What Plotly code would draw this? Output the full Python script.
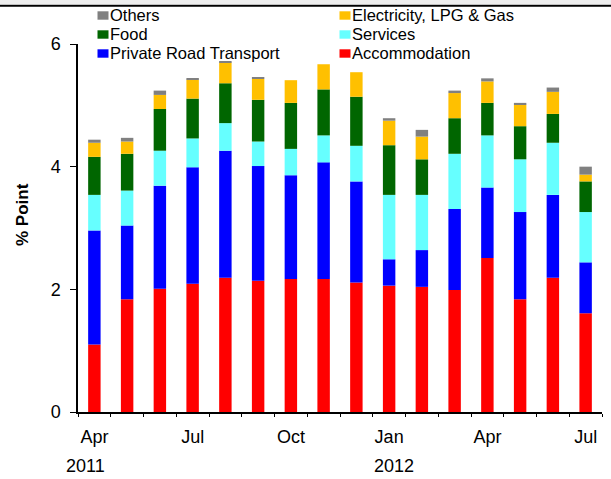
import plotly.graph_objects as go

# ---------------- data ----------------
months = ["Apr-11", "May-11", "Jun-11", "Jul-11", "Aug-11", "Sep-11", "Oct-11", "Nov-11",
          "Dec-11", "Jan-12", "Feb-12", "Mar-12", "Apr-12", "May-12", "Jun-12", "Jul-12"]
month_tick_text = ["Apr", "", "", "Jul", "", "", "Oct", "", "", "Jan", "", "", "Apr", "", "", "Jul"]
year_labels = ["2011", "2012"]

accommodation = [1.10, 1.84, 2.01, 2.09, 2.19, 2.14, 2.17, 2.17, 2.11, 2.06, 2.04, 1.99, 2.51, 1.84, 2.19, 1.61]
private_road = [1.86, 1.20, 1.68, 1.90, 2.07, 1.87, 1.69, 1.90, 1.65, 0.43, 0.60, 1.32, 1.15, 1.42, 1.35, 0.83]
services = [0.58, 0.57, 0.57, 0.47, 0.45, 0.40, 0.43, 0.44, 0.58, 1.05, 0.90, 0.90, 0.85, 0.86, 0.85, 0.82]
food = [0.62, 0.60, 0.68, 0.65, 0.65, 0.68, 0.75, 0.75, 0.80, 0.81, 0.58, 0.58, 0.53, 0.54, 0.47, 0.50]
electricity = [0.23, 0.20, 0.23, 0.31, 0.34, 0.34, 0.37, 0.41, 0.40, 0.40, 0.37, 0.41, 0.35, 0.35, 0.36, 0.11]
others = [0.05, 0.06, 0.07, 0.02, 0.02, 0.02, 0.00, -0.03, 0.00, 0.04, 0.11, 0.04, 0.05, 0.03, 0.07, 0.13]

y_ticks = [0, 2, 4, 6]
y_title = "% Point"

series = [
    ("Accommodation", accommodation, "#FF0000"),
    ("Private Road Transport", private_road, "#0000FF"),
    ("Services", services, "#66FFFF"),
    ("Food", food, "#006600"),
    ("Electricity, LPG & Gas", electricity, "#FFC000"),
    ("Others", others, "#808080"),
]

# ---------------- layout helpers ----------------
W, H = 611, 479
ML, MR, MT, MB = 78, 9, 44, 67
PW, PH = W - ML - MR, H - MT - MB
FONT = "Liberation Sans, Arial, sans-serif"


def px2x(px):
    return (px - ML) / PW


def py2y(py):
    return (H - MB - py) / PH


fig = go.Figure()
for name, vals, col in series:
    fig.add_trace(go.Bar(x=months, y=vals, name=name, marker_color=col,
                         marker_line_width=0, width=0.38, showlegend=False))

shapes = []
annotations = []

# manual legend (two columns, three rows)
legend_layout = [
    ("Others", 0, 0), ("Electricity, LPG & Gas", 1, 0),
    ("Food", 0, 1), ("Services", 1, 1),
    ("Private Road Transport", 0, 2), ("Accommodation", 1, 2),
]
col_sq_x = [97.5, 339.5]
row_cy = [15.5, 34.5, 53.5]
color_of = {n: c for n, _, c in series}
for name, ci, ri in legend_layout:
    sx = col_sq_x[ci]
    cy = row_cy[ri]
    shapes.append(dict(type="rect", xref="paper", yref="paper",
                       x0=px2x(sx), x1=px2x(sx + 11), y0=py2y(cy + 4.2), y1=py2y(cy - 4.2),
                       fillcolor=color_of[name], line=dict(width=0)))
    annotations.append(dict(text=name, xref="paper", yref="paper", x=px2x(sx + 11), y=py2y(cy),
                            xanchor="left", yanchor="middle", showarrow=False, borderpad=0,
                            font=dict(family=FONT, size=16.5, color="#000")))

# top band
shapes.append(dict(type="rect", xref="paper", yref="paper", x0=px2x(0), x1=px2x(W),
                   y0=py2y(4), y1=py2y(0), fillcolor="#EEEEEE", line=dict(width=0), layer="below"))
shapes.append(dict(type="line", xref="paper", yref="paper", x0=px2x(0), x1=px2x(W),
                   y0=py2y(5.7), y1=py2y(5.7), line=dict(color="#000", width=2)))

# y title
annotations.append(dict(text="<b>" + y_title + "</b>", xref="paper", yref="paper",
                        x=px2x(22), y=py2y(215), textangle=-90, showarrow=False,
                        xanchor="center", yanchor="middle",
                        font=dict(family=FONT, size=17, color="#000")))

# year labels
for lab, xpos in zip(year_labels, [-0.26, 9.15]):
    annotations.append(dict(text=lab, xref="x", yref="paper", x=xpos, y=py2y(466),
                            showarrow=False, xanchor="center", yanchor="middle",
                            font=dict(family=FONT, size=18, color="#000")))

fig.update_layout(
    width=W, height=H,
    margin=dict(l=ML, r=MR, t=MT, b=MB, autoexpand=False),
    paper_bgcolor="white", plot_bgcolor="white",
    barmode="relative", bargap=0.62,
    shapes=shapes, annotations=annotations,
    font=dict(family=FONT, size=17, color="#000"),
)
fig.update_xaxes(
    type="category", categoryorder="array", categoryarray=months,
    tickmode="array", tickvals=months, ticktext=month_tick_text, tickangle=0,
    tickson="boundaries", ticks="outside", ticklen=3, tickwidth=1, tickcolor="#000",
    showline=True, linecolor="#000", linewidth=1.5, showgrid=False, zeroline=False,
    tickfont=dict(family=FONT, size=18, color="#000"), ticklabelstandoff=8,
    range=[-0.5, 15.5], automargin=False,
)
fig.update_yaxes(
    range=[0, 6], tickmode="array", tickvals=y_ticks,
    ticks="outside", ticklen=6, tickwidth=1, tickcolor="#000",
    showline=True, linecolor="#000", linewidth=1.5, showgrid=False, zeroline=False,
    tickfont=dict(family=FONT, size=18, color="#000"), ticklabelstandoff=6, automargin=False,
)

fig.write_html("out.html", config={"displayModeBar": False},
               post_script="document.body.style.margin='0';document.body.style.padding='0';")
